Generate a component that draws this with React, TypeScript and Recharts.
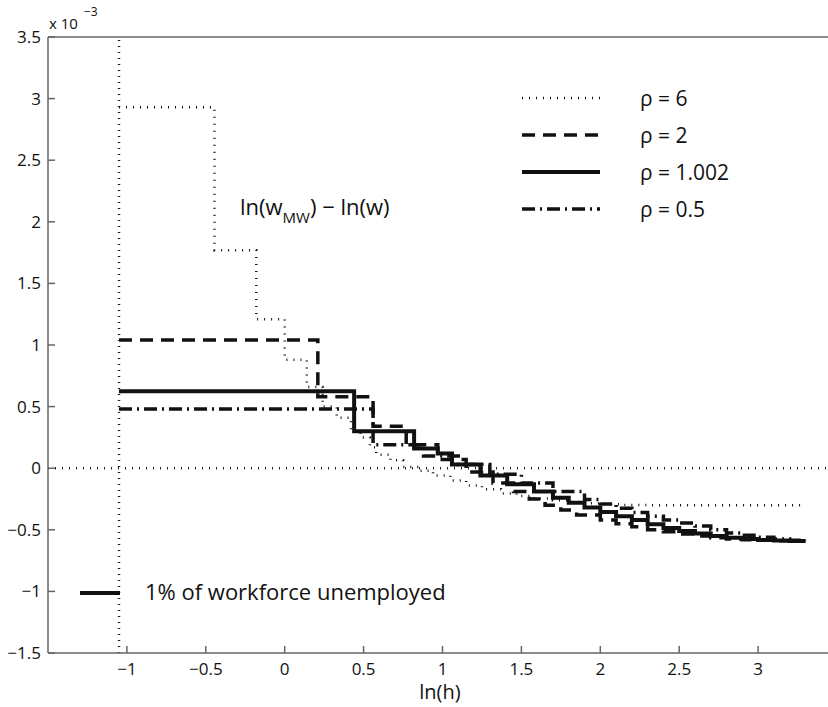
import React from 'react';
import { LineChart, Line, XAxis, YAxis, ReferenceLine } from 'recharts';

// values are in units of 1e-3
const rho6X = [-1.05, -0.445, -0.18, 0.0, 0.14, 0.24, 0.33, 0.42, 0.48, 0.54, 0.58, 0.67, 0.75, 0.85, 0.94, 1.05, 1.15, 1.25, 1.37, 1.47, 1.58, 1.7, 1.8, 1.9, 2.0, 2.15, 2.3, 3.27];
const rho6Y = [2.93, 1.77, 1.21, 0.88, 0.66, 0.5, 0.41, 0.3, 0.25, 0.17, 0.11, 0.065, 0.01, -0.02, -0.06, -0.1, -0.14, -0.17, -0.205, -0.225, -0.245, -0.26, -0.275, -0.285, -0.292, -0.298, -0.3, -0.3];

const rho2X = [-1.05, 0.21, 0.56, 0.77, 0.97, 1.15, 1.32, 1.45, 1.55, 1.65, 1.75, 1.85, 2.0, 2.1, 2.2, 2.3, 2.4, 2.5, 2.6, 2.7, 2.8, 2.9, 3.0, 3.1, 3.2, 3.3];
const rho2Y = [1.04, 0.58, 0.34, 0.19, 0.07, -0.03, -0.12, -0.19, -0.25, -0.3, -0.34, -0.38, -0.42, -0.45, -0.475, -0.5, -0.515, -0.535, -0.55, -0.565, -0.575, -0.58, -0.585, -0.588, -0.59, -0.59];

const rho1X = [-1.05, 0.44, 0.82, 0.97, 1.06, 1.24, 1.41, 1.58, 1.7, 1.8, 1.9, 2.0, 2.1, 2.2, 2.3, 2.4, 2.5, 2.6, 2.7, 2.8, 2.9, 3.0, 3.1, 3.2, 3.3];
const rho1Y = [0.625, 0.3, 0.16, 0.12, 0.03, -0.06, -0.13, -0.19, -0.24, -0.28, -0.32, -0.355, -0.39, -0.42, -0.455, -0.485, -0.51, -0.53, -0.55, -0.565, -0.575, -0.582, -0.587, -0.59, -0.59];

const rho05X = [-1.05, 0.56, 0.88, 1.1, 1.3, 1.5, 1.7, 1.9, 2.0, 2.1, 2.2, 2.3, 2.4, 2.5, 2.6, 2.7, 2.8, 2.9, 3.0, 3.1, 3.2, 3.3];
const rho05Y = [0.48, 0.19, 0.1, 0.03, -0.05, -0.12, -0.19, -0.255, -0.29, -0.325, -0.36, -0.39, -0.42, -0.445, -0.47, -0.5, -0.525, -0.545, -0.56, -0.575, -0.585, -0.59];

const xTicks = [-1, -0.5, 0, 0.5, 1, 1.5, 2, 2.5, 3];
const yTicks = [-1.5, -1, -0.5, 0, 0.5, 1, 1.5, 2, 2.5, 3, 3.5];
const cutoffX = -1.05;

const toPoints = (xs: number[], ys: number[]) => xs.map((x, i) => ({ x, y: ys[i] }));

const series = [
  { name: 'ρ = 6', data: toPoints(rho6X, rho6Y), dash: '1 6', width: 2.5 },
  { name: 'ρ = 2', data: toPoints(rho2X, rho2Y), dash: '13 8', width: 3.5 },
  { name: 'ρ = 1.002', data: toPoints(rho1X, rho1Y), dash: undefined, width: 4 },
  { name: 'ρ = 0.5', data: toPoints(rho05X, rho05Y), dash: '13 5 2 5', width: 3.5 },
];

const FONT = '"Open Sans", "Noto Sans", sans-serif';
const fmt = (v: number) => String(v).replace('-', '\u2212');
const legendY = [98, 135, 172, 209];

export default function App() {
  return (
    <div style={{ position: 'fixed', left: 0, top: 0, width: 828, height: 707, overflow: 'hidden', background: '#fff' }}>
      <LineChart width={860} height={707} margin={{ top: 36, right: 23, bottom: 14, left: 0 }}>
        <XAxis
          xAxisId="top"
          orientation="top"
          type="number"
          domain={[-1.5, 3.5]}
          ticks={xTicks}
          height={1}
          tickSize={-7}
          tick={{ fill: 'none' }}
          stroke="#666"
          strokeWidth={1.5}
          allowDataOverflow
        />
        <XAxis
          type="number"
          dataKey="x"
          domain={[-1.5, 3.5]}
          ticks={xTicks}
          tickFormatter={fmt}
          height={40}
          tickSize={-7}
          tickMargin={17}
          tick={{ fill: '#111', fontSize: 17, fontFamily: FONT }}
          stroke="#666"
          strokeWidth={1.5}
          allowDataOverflow
        />
        <YAxis
          type="number"
          domain={[-1.5, 3.5]}
          ticks={yTicks}
          tickFormatter={fmt}
          width={48}
          tickSize={-7}
          tickMargin={14}
          tick={{ fill: '#111', fontSize: 17, fontFamily: FONT }}
          stroke="#666"
          strokeWidth={1.5}
          allowDataOverflow
        />
        <ReferenceLine y={0} stroke="#222" strokeWidth={2.5} strokeDasharray="1 6" />
        <ReferenceLine x={cutoffX} stroke="#222" strokeWidth={2.5} strokeDasharray="1 5" />
        {series.map((s) => (
          <Line
            key={s.name}
            data={s.data}
            dataKey="y"
            type="stepAfter"
            stroke="#111"
            strokeWidth={s.width}
            strokeDasharray={s.dash}
            dot={false}
            isAnimationActive={false}
          />
        ))}
      </LineChart>

      <svg width={828} height={707} style={{ position: 'absolute', left: 0, top: 0, pointerEvents: 'none' }}>
        <g fontFamily={FONT} fill="#111">
          <text x={49} y={29} fontSize={15}>x 10</text>
          <text x={84} y={16} fontSize={12}>{'\u22123'}</text>

          <text x={240} y={215} fontSize={22}>
            ln(w
            <tspan fontSize={15} dy={8}>MW</tspan>
            <tspan dy={-8}>) {'\u2212'} ln(w)</tspan>
          </text>

          {series.map((s, i) => (
            <g key={s.name}>
              <line x1={522} x2={600} y1={legendY[i]} y2={legendY[i]} stroke="#111" strokeWidth={s.width} strokeDasharray={s.dash} />
              <text x={640} y={legendY[i] + 7.5} fontSize={21}>{s.name}</text>
            </g>
          ))}

          <line x1={80} x2={120} y1={593} y2={593} stroke="#111" strokeWidth={4} />
          <text x={145} y={600} fontSize={22}>1% of workforce unemployed</text>

          <text x={440} y={699} fontSize={20} textAnchor="middle">ln(h)</text>
        </g>
      </svg>
    </div>
  );
}
